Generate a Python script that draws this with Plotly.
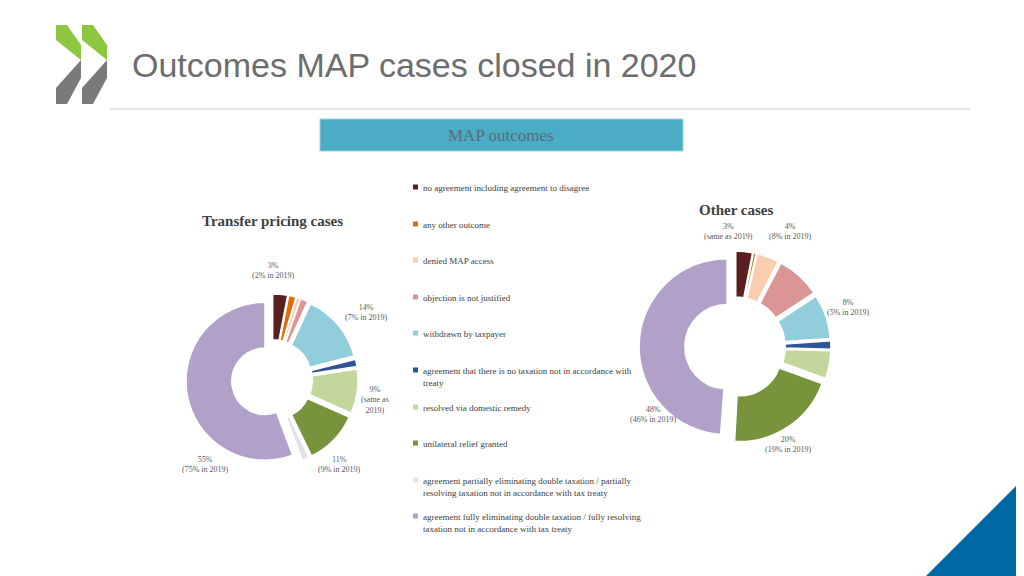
import plotly.graph_objects as go

categories = ["no agreement including agreement to disagree", "any other outcome", "denied MAP access",
              "objection is not justified", "withdrawn by taxpayer",
              "agreement that there is no taxation not in accordance with<br>treaty",
              "resolved via domestic remedy", "unilateral relief granted",
              "agreement partially eliminating double taxation / partially<br>resolving taxation not in accordance with tax treaty",
              "agreement fully eliminating double taxation / fully resolving<br>taxation not in accordance with tax treaty"]
colors = ["#5B1F1F", "#E36C0A", "#F9CDB0", "#D99694", "#92CDDC", "#2F5597", "#C3D69B", "#77933C", "#E3E1EA", "#B1A0C7"]
tp_values = [3, 1.5, 0.8, 1.5, 14, 1.5, 9, 11, 1.5, 55]
other_values = [3, 0.5, 4, 8, 8, 1.5, 5, 20, 0.3, 48]

W, H = 1024, 576
OFF = 8
def px(x): return (x - OFF) / W
def py(y): return 1 - (y - OFF) / H

fig = go.Figure()
pull = 0.09
for vals, cx, cy, r, hole in [(tp_values, 272, 380, 79, 0.42), (other_values, 735, 347, 88, 0.48)]:
    h = r * (1 + pull)
    fig.add_trace(go.Pie(values=vals, labels=categories, sort=False, direction="clockwise", rotation=0,
                         hole=hole, pull=[pull]*len(vals), textinfo="none", showlegend=False,
                         marker=dict(colors=colors, line=dict(color="white", width=1.5)),
                         domain=dict(x=[px(cx - h), px(cx + h)], y=[py(cy + h), py(cy - h)])))

serif = "Liberation Serif"
ann = []
def text(x, y, t, size=8, color="#595959", anchor="center", fam=serif):
    ann.append(dict(x=px(x), y=py(y), xref="paper", yref="paper", text=t, showarrow=False,
                    xanchor=anchor, yanchor="middle", font=dict(family=fam, size=size, color=color), align=anchor))

text(130, 65, "Outcomes MAP cases closed in 2020", 34, "#6d6d6d", "left", "Liberation Sans")
text(501, 135, "MAP outcomes", 17, "#5a6a7a", "center")
text(272, 221, "<b>Transfer pricing cases</b>", 15, "#404040")
text(736, 210, "<b>Other cases</b>", 15, "#404040")

text(273, 270, "3%<br>(2% in 2019)")
text(366, 312, "14%<br>(7% in 2019)")
text(375, 400, "9%<br>(same as<br>2019)")
text(339, 464, "11%<br>(9% in 2019)")
text(205, 464, "55%<br>(75% in 2019)")
text(728, 232, "3%<br>(same as 2019)")
text(790, 232, "4%<br>(8% in 2019)")
text(848, 307, "8%<br>(5% in 2019)")
text(653, 414, "48%<br>(46% in 2019)")
text(788, 444, "20%<br>(19% in 2019)")

legend_y = [187, 224, 260, 297, 333, 370, 407, 443, 480, 516]
shapes = []
for c, col, y in zip(categories, colors, legend_y):
    ann.append(dict(x=px(421), y=py(y - 6), xref="paper", yref="paper", text=c, showarrow=False,
                    xanchor="left", yanchor="top", align="left",
                    font=dict(family=serif, size=9, color="#404040")))
    shapes.append(dict(type="rect", xref="paper", yref="paper", x0=px(413), x1=px(418),
                       y0=py(y + 2.5), y1=py(y - 2.5), fillcolor=col, line=dict(width=0)))

shapes += [
    dict(type="line", xref="paper", yref="paper", x0=px(110), x1=px(970), y0=py(109), y1=py(109),
         line=dict(color="#c8c8c8", width=1)),
    dict(type="rect", xref="paper", yref="paper", x0=px(320), x1=px(683), y0=py(151), y1=py(119),
         fillcolor="#4BACC6", line=dict(color="#9fd0de", width=1)),
    dict(type="path", xref="paper", yref="paper",
         path=f"M {px(918)},{py(584)} L {px(1032)},{py(470)} L {px(1032)},{py(584)} Z",
         fillcolor="#0068A5", line=dict(width=0)),
]
def poly(pts, col):
    p = "M " + " L ".join(f"{px(a)},{py(b)}" for a, b in pts) + " Z"
    return dict(type="path", xref="paper", yref="paper", path=p, fillcolor=col, line=dict(width=0))
for x0 in (56, 82):
    shapes.append(poly([(x0, 25), (x0 + 11, 25), (x0 + 25, 45), (x0 + 25, 60), (x0, 40)], "#8DC63F"))
    shapes.append(poly([(x0 + 25, 60), (x0 + 25, 78), (x0 + 11, 104), (x0, 104), (x0, 88)], "#7a7a7a"))

fig.update_layout(width=W, height=H, margin=dict(l=0, r=0, t=0, b=0), paper_bgcolor="white",
                  annotations=ann, shapes=shapes)
fig.write_html("out.html")
